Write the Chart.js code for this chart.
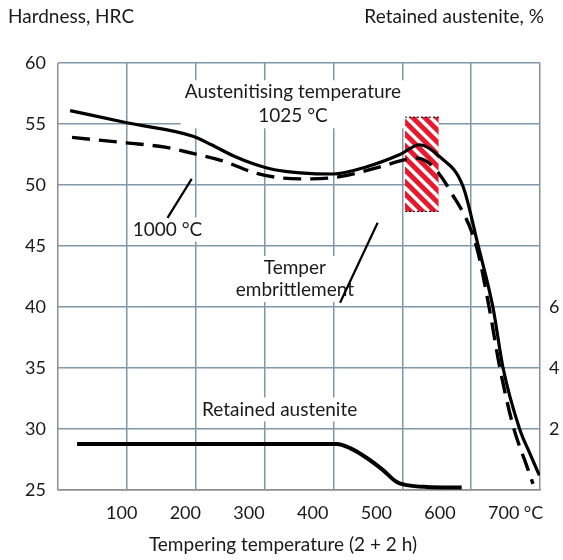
<!DOCTYPE html>
<html>
<head>
<meta charset="utf-8">
<script src="https://cdn.jsdelivr.net/npm/chart.js@4.4.1/dist/chart.umd.min.js"></script>
<style>
  html, body { margin: 0; padding: 0; background: #fff; }
</style>
</head>
<body>
<canvas id="hardnessChart" width="563" height="560"></canvas>
<script>
// Hardness curve, austenitised at 1025 °C (solid)
const temp1025 = [19, 108, 212, 241, 275, 309, 340, 380, 432, 485, 537, 568, 600, 636, 660, 683, 699, 725, 741, 756];
const hrc1025 = [56.1, 55.1, 54.0, 53.3, 52.4, 51.7, 51.25, 51.0, 50.9, 51.5, 52.5, 53.3, 52.3, 49.9, 45.0, 40.0, 35.0, 30.0, 28.0, 26.2];

// Hardness curve, austenitised at 1000 °C (dashed)
const temp1000 = [22, 108, 168, 215, 257, 309, 340, 380, 432, 500, 547, 565, 589, 615, 657, 677, 694, 715, 736, 746];
const hrc1000 = [53.9, 53.45, 53.1, 52.55, 52.0, 51.0, 50.65, 50.5, 50.6, 51.4, 52.1, 52.2, 51.5, 49.6, 45.0, 40.0, 35.0, 30.2, 27.0, 25.5];

// Retained austenite, % (right axis)
const tempRA = [30, 438, 458, 485, 510, 532, 548, 579, 634];
const retainedAustenite = [1.51, 1.51, 1.38, 1.05, 0.66, 0.26, 0.16, 0.10, 0.08];

// Axis ticks
const tempTicks = [100, 200, 300, 400, 500, 600, 700];
const hrcTicks = [25, 30, 35, 40, 45, 50, 55, 60];
const raTicks = [2, 4, 6];

// Temper embrittlement zone (°C, HRC)
const embrittleTemp = [545, 598];
const embrittleHrc = [47.8, 55.6];

const FONT = "Lato, 'Open Sans', sans-serif";
const TEXT = "#1a1a1a";
const GRID = "#7f98aa";
const FRAME = "#8e8e8e";

Chart.defaults.font.family = FONT;
Chart.defaults.color = TEXT;

function toPoints(xs, ys) {
  return xs.map((x, i) => ({ x: x, y: ys[i] }));
}

// red/white hatch, labels with white boxes, leader lines
const annotationsPlugin = {
  id: "annotations",
  beforeDatasetsDraw(chart) {
    const { ctx } = chart;
    const x = chart.scales.x;
    const y = chart.scales.y;

    // hatched zone
    const x0 = x.getPixelForValue(embrittleTemp[0]);
    const x1 = x.getPixelForValue(embrittleTemp[1]);
    const y0 = y.getPixelForValue(embrittleHrc[1]);
    const y1 = y.getPixelForValue(embrittleHrc[0]);
    ctx.save();
    ctx.beginPath();
    ctx.rect(x0, y0, x1 - x0, y1 - y0);
    ctx.clip();
    ctx.fillStyle = "#e8192c";
    ctx.fillRect(x0, y0, x1 - x0, y1 - y0);
    ctx.strokeStyle = "#ffffff";
    ctx.lineWidth = 3.5;
    const h = y1 - y0;
    for (let k = -h - 12; k < x1 - x0 + 12; k += 12) {
      ctx.beginPath();
      ctx.moveTo(x0 + k, y0);
      ctx.lineTo(x0 + k + h, y1);
      ctx.stroke();
    }
    ctx.restore();

    ctx.save();
    ctx.strokeStyle = "#000";
    ctx.lineWidth = 1;
    ctx.setLineDash([2, 2]);
    ctx.beginPath();
    ctx.moveTo(x0, y0 + 0.5);
    ctx.lineTo(x1, y0 + 0.5);
    ctx.moveTo(x0, y1 - 0.5);
    ctx.lineTo(x1, y1 - 0.5);
    ctx.stroke();
    ctx.restore();

    // text labels on white
    const labels = [
      { lines: ["Austenitising temperature", "1025 \u00b0C"], t: 369, v: 57.6, gap: 24 },
      { lines: ["1000 \u00b0C"], t: 172, v: 46.35, gap: 0 },
      { lines: ["Temper", "embrittlement"], t: 372, v: 43.2, gap: 22 },
      { lines: ["Retained austenite"], t: 348, v: 31.6, gap: 0 },
    ];
    ctx.save();
    ctx.font = "19px " + FONT;
    ctx.textAlign = "center";
    ctx.textBaseline = "middle";
    labels.forEach((lb) => {
      const cx = x.getPixelForValue(lb.t);
      const cy = y.getPixelForValue(lb.v);
      const w = Math.max(...lb.lines.map((s) => ctx.measureText(s).width));
      const hh = lb.gap * (lb.lines.length - 1) + 20;
      ctx.fillStyle = "#fff";
      ctx.fillRect(cx - w / 2 - 4, cy - 12, w + 8, hh + 4);
      ctx.fillStyle = TEXT;
      lb.lines.forEach((s, i) => ctx.fillText(s, cx, cy + i * lb.gap));
    });
    ctx.restore();

    // leader lines
    const leaders = [
      [172, 47.3, 210, 50.5],
      [443, 40.35, 502, 46.9],
    ];
    ctx.save();
    ctx.strokeStyle = "#000";
    ctx.lineWidth = 2.2;
    leaders.forEach((l) => {
      ctx.beginPath();
      ctx.moveTo(x.getPixelForValue(l[0]), y.getPixelForValue(l[1]));
      ctx.lineTo(x.getPixelForValue(l[2]), y.getPixelForValue(l[3]));
      ctx.stroke();
    });
    ctx.restore();
  },
  afterDraw(chart) {
    const { ctx } = chart;
    const x = chart.scales.x;
    ctx.save();
    ctx.fillStyle = TEXT;
    ctx.font = "19px " + FONT;
    ctx.textBaseline = "middle";
    ctx.textAlign = "left";
    ctx.fillText("Hardness, HRC", 8, 17);
    ctx.textAlign = "right";
    ctx.fillText("Retained austenite, %", 544, 17);
    ctx.textAlign = "center";
    ctx.fillText("Tempering temperature (2 + 2 h)", 283, 545);
    ctx.font = "18px " + FONT;
    ctx.textAlign = "left";
    ctx.fillText("\u00b0C", x.getPixelForValue(700) + 20, 513);
    ctx.restore();
  },
};

new Chart(document.getElementById("hardnessChart"), {
  type: "line",
  data: {
    datasets: [
      {
        label: "1025 °C",
        data: toPoints(temp1025, hrc1025),
        borderColor: "#000",
        borderWidth: 3.2,
        pointRadius: 0,
        cubicInterpolationMode: "monotone",
        yAxisID: "y",
      },
      {
        label: "1000 °C",
        data: toPoints(temp1000, hrc1000),
        borderColor: "#000",
        borderWidth: 3.4,
        borderDash: [18, 9],
        pointRadius: 0,
        cubicInterpolationMode: "monotone",
        yAxisID: "y",
      },
      {
        label: "Retained austenite",
        data: toPoints(tempRA, retainedAustenite),
        borderColor: "#000",
        borderWidth: 4,
        pointRadius: 0,
        cubicInterpolationMode: "monotone",
        yAxisID: "y2",
      },
    ],
  },
  options: {
    responsive: false,
    animation: false,
    layout: { padding: { top: 63, left: 0, right: 0, bottom: 0 } },
    plugins: {
      legend: { display: false },
      tooltip: { enabled: false },
    },
    scales: {
      x: {
        type: "linear",
        position: "bottom",
        min: 0,
        max: 757,
        afterBuildTicks: (s) => { s.ticks = tempTicks.map((v) => ({ value: v })); },
        afterFit: (s) => { s.height = 70; },
        grid: { display: false, drawTicks: false },
        border: { display: true, color: FRAME, width: 1.5 },
        ticks: { padding: 12, font: { size: 18 }, color: TEXT, maxRotation: 0, autoSkip: false },
      },
      xg: {
        type: "linear",
        position: "bottom",
        min: 0,
        max: 7,
        afterBuildTicks: (s) => { s.ticks = [0, 1, 2, 3, 4, 5, 6, 7].map((v) => ({ value: v })); },
        afterFit: (s) => { s.height = 0; },
        grid: {
          drawTicks: false,
          lineWidth: 1.5,
          color: (c) => (c.tick && (c.tick.value === 0 || c.tick.value === 7) ? FRAME : GRID),
        },
        border: { display: false },
        ticks: { display: false },
      },
      y: {
        position: "left",
        min: 25,
        max: 60,
        afterBuildTicks: (s) => { s.ticks = hrcTicks.map((v) => ({ value: v })); },
        afterFit: (s) => { s.width = 58; },
        grid: {
          drawTicks: false,
          lineWidth: 1.5,
          color: (c) => (c.tick && c.tick.value === 25 ? FRAME : GRID),
        },
        border: { display: false },
        ticks: { padding: 12, font: { size: 18 }, color: TEXT },
      },
      y2: {
        position: "right",
        min: 0,
        max: 14,
        afterBuildTicks: (s) => { s.ticks = raTicks.map((v) => ({ value: v })); },
        afterFit: (s) => { s.width = 23; },
        grid: { display: false, drawTicks: false },
        border: { display: false },
        ticks: { padding: 9, font: { size: 18 }, color: TEXT },
      },
    },
  },
  plugins: [annotationsPlugin],
});
</script>
</body>
</html>
